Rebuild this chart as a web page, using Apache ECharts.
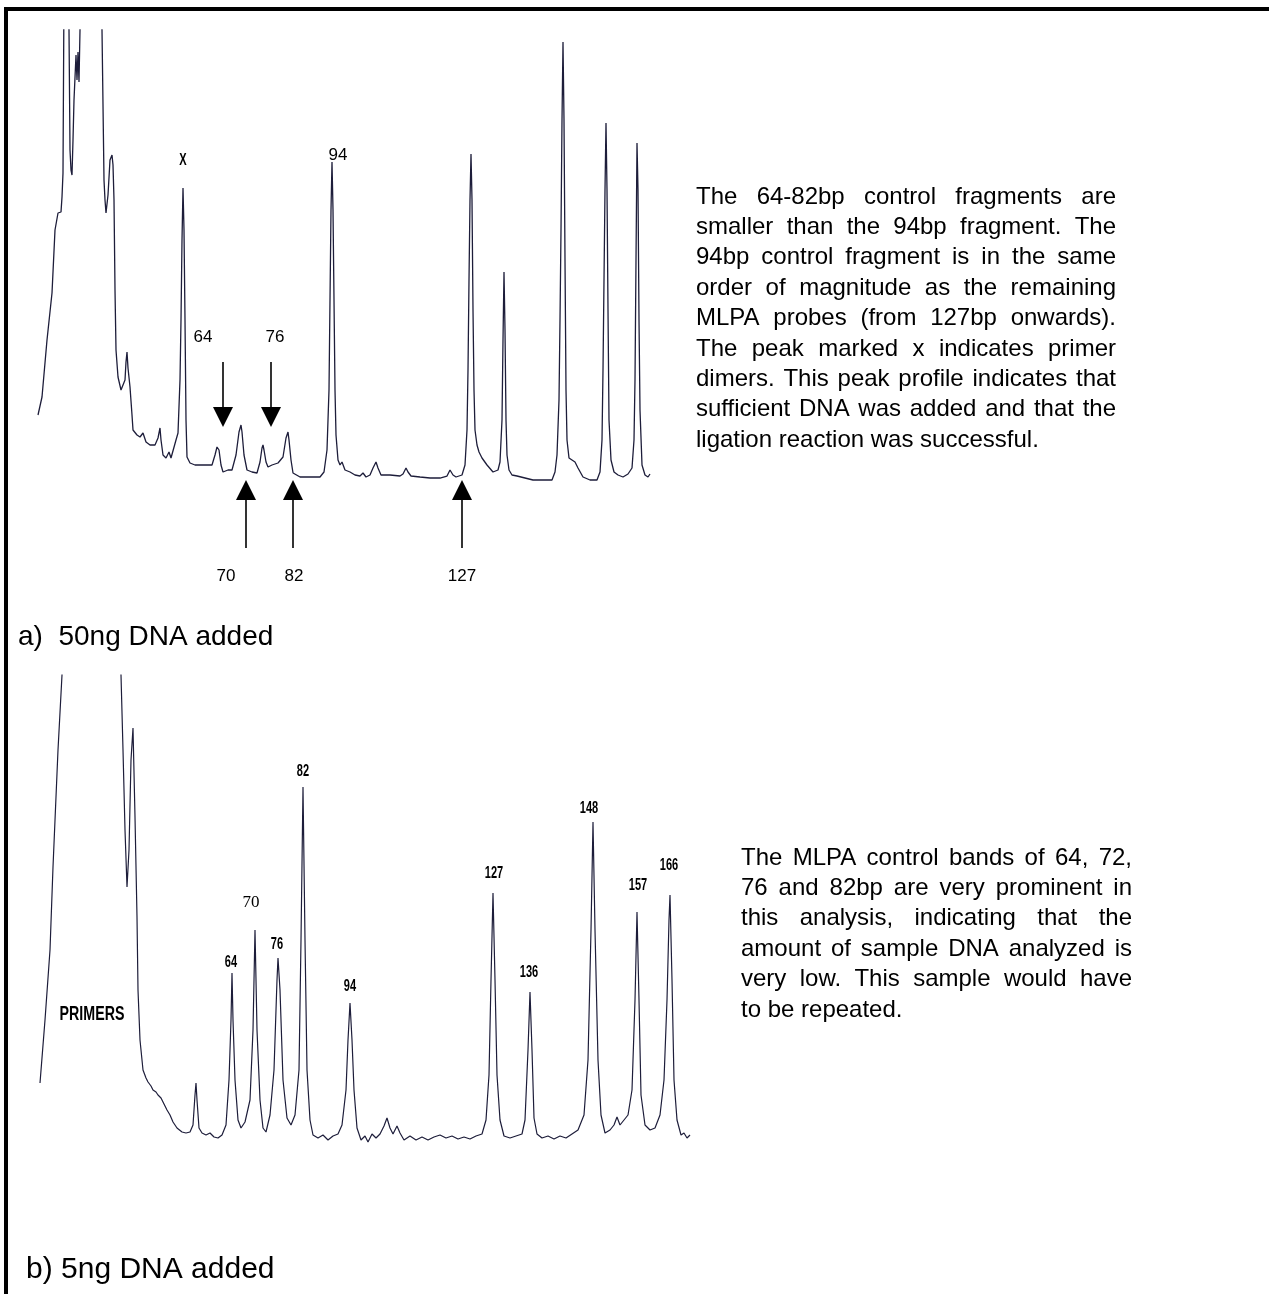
<!DOCTYPE html>
<html><head><meta charset="utf-8">
<script src="https://cdn.jsdelivr.net/npm/echarts@6/dist/echarts.min.js"></script>
<style>html,body{margin:0;padding:0;background:#fff;}#c{width:1269px;height:1294px;}</style>
</head><body><div id="c"></div>
<script>
// ---- Data: trace (a) 50ng DNA, [scan position, signal] ----
const traceA = [[38,65],[42,83],[47,140],[52,187],[55,250],[58,267],[61,268],[62,283],[63,307],[64,490],[68,490],[69,450],[70,330],[71,310],[72,305],[73,340],[74,380],[76,425],[77,400],[78,428],[79,398],[80,450],[81,490],[101,490],[102,450],[104,300],[105,280],[106,267],[108,285],[110,320],[112,325],[113,315],[114,280],[115,190],[116,130],[118,103],[121,90],[123,88],[125,100],[126,118],[127,128],[128,112],[130,93],[132,65],[133,50],[137,45],[140,43],[143,47],[146,38],[150,35],[155,35],[158,42],[160,52],[161,40],[163,25],[166,22],[169,28],[171,22],[173,23],[176,40],[178,47],[180,100],[181,160],[182,240],[183,292],[184,250],[185,160],[186,60],[187,23],[190,17],[195,15],[200,15],[205,15],[212,15],[215,25],[217,33],[218,35],[219,30],[221,15],[223,8],[228,10],[232,10],[236,25],[239,48],[241,55],[242,48],[244,25],[247,10],[252,8],[257,7],[260,18],[262,32],[263,35],[264,30],[266,18],[268,13],[272,15],[278,17],[283,23],[286,42],[288,48],[289,40],[291,20],[293,7],[300,3],[310,3],[320,3],[324,8],[327,30],[329,90],[330,180],[331,270],[332,318],[333,270],[334,180],[335,90],[336,45],[338,20],[340,15],[342,18],[345,10],[350,8],[355,5],[360,4],[363,7],[366,3],[370,5],[373,12],[376,18],[378,12],[381,5],[390,5],[400,4],[403,6],[406,12],[408,8],[411,4],[420,3],[430,2],[440,2],[447,4],[450,10],[451,12],[453,5],[456,3],[462,5],[465,15],[467,50],[468,110],[469,200],[470,280],[471,326],[472,280],[473,170],[474,90],[475,50],[477,35],[479,28],[482,22],[487,15],[493,8],[498,10],[500,18],[502,60],[503,140],[504,208],[505,150],[506,60],[507,25],[509,10],[512,5],[517,4],[525,2],[533,0],[545,0],[552,0],[555,8],[557,25],[559,80],[560,160],[561,250],[562,360],[563,438],[564,360],[565,220],[566,90],[567,40],[569,22],[572,20],[575,18],[578,12],[583,3],[590,0],[597,0],[600,8],[602,40],[603,110],[604,200],[605,290],[606,357],[607,290],[608,170],[609,60],[611,20],[614,8],[618,5],[623,3],[628,6],[632,12],[634,40],[635,100],[636,220],[637,337],[638,290],[639,160],[640,70],[642,15],[645,5],[648,3],[650,6]];

// ---- Data: trace (b) 5ng DNA, [scan position, signal] ----
const traceB = [[40,107],[45,170],[50,240],[53,323],[58,440],[62,515],[63,560],[120,560],[121,515],[123,440],[125,360],[127,303],[129,340],[131,430],[133,462],[135,373],[137,273],[138,200],[140,150],[143,120],[146,112],[148,108],[151,104],[153,100],[156,98],[158,95],[161,92],[163,90],[167,80],[170,75],[173,68],[177,62],[182,58],[186,57],[190,58],[193,65],[195,95],[196,107],[197,90],[199,62],[202,57],[206,55],[210,57],[214,53],[218,52],[222,55],[226,65],[229,110],[231,170],[232,217],[233,170],[235,110],[238,70],[241,62],[245,68],[250,90],[253,160],[255,260],[257,160],[260,90],[263,62],[266,58],[270,75],[274,120],[277,210],[278,232],[280,200],[283,110],[287,72],[291,65],[295,75],[299,120],[301,250],[303,403],[305,250],[307,120],[310,70],[313,55],[318,52],[323,55],[328,50],[333,54],[338,56],[342,65],[346,100],[348,150],[350,187],[352,150],[354,100],[357,62],[361,50],[365,54],[368,48],[372,56],[376,52],[380,56],[384,64],[387,72],[390,62],[393,56],[397,64],[400,57],[404,50],[410,54],[416,50],[422,53],[428,50],[434,53],[440,55],[446,52],[452,54],[458,51],[464,53],[470,51],[476,54],[482,56],[486,70],[489,115],[491,210],[493,297],[495,210],[497,115],[500,70],[504,54],[510,52],[516,54],[522,56],[525,70],[528,140],[530,198],[532,140],[534,72],[537,56],[542,52],[548,54],[554,51],[560,54],[566,52],[572,56],[578,60],[584,75],[588,130],[591,260],[593,368],[595,260],[598,130],[601,75],[605,57],[610,60],[614,65],[617,73],[620,65],[624,70],[628,75],[632,100],[635,190],[637,278],[639,190],[641,95],[645,65],[650,60],[655,62],[660,75],[664,110],[667,190],[669,270],[670,295],[672,210],[674,110],[677,70],[681,55],[684,57],[687,52],[690,55]];

// ---- Annotations (data coordinates) ----
const labelsATop = [['X',183,320],['94',338,325],['64',203,143],['76',275,143]];
const labelsABelow = [['70',226,-96],['82',294,-96],['127',462,-96]];
const arrowsDownA = [223, 271];
const arrowsUpA = [246, 293, 462];
const labelsB = [['64',231,228],['76',277,246],['82',303,419],['94',350,204],['127',494,317],['136',529,218],['148',589,382],['157',638,305],['166',669,325]];
const labelB70 = ['70',251,287];
const primersLabel = ['PRIMERS',92,175];

const para1 = ["The 64-82bp control fragments are","smaller than the 94bp fragment. The","94bp control fragment is in the same","order of magnitude as the remaining","MLPA probes (from 127bp onwards).","The peak marked x indicates primer","dimers. This peak profile indicates that","sufficient DNA was added and that the","ligation reaction was successful."];
const para2 = ["The MLPA control bands of 64, 72,","76 and 82bp are very prominent in","this analysis, indicating that the","amount of sample DNA analyzed is","very low. This sample would have","to be repeated."];

const chart = echarts.init(document.getElementById('c'), null, {renderer:'canvas'});
const axisOff = {show:false, splitLine:{show:false}};
const lineColor = '#1d1d3a';
chart.setOption({
  animation:false,
  backgroundColor:'#ffffff',
  grid:[{left:0,top:30,width:700,height:550},{left:0,top:675,width:700,height:615}],
  xAxis:[Object.assign({type:'value',min:0,max:700,gridIndex:0},axisOff),Object.assign({type:'value',min:0,max:700,gridIndex:1},axisOff)],
  yAxis:[Object.assign({type:'value',min:-100,max:450,gridIndex:0},axisOff),Object.assign({type:'value',min:-100,max:515,gridIndex:1},axisOff)],
  series:[
    {type:'line',xAxisIndex:0,yAxisIndex:0,data:traceA,showSymbol:false,symbol:'none',clip:true,lineStyle:{color:lineColor,width:1.3}},
    {type:'line',xAxisIndex:1,yAxisIndex:1,data:traceB,showSymbol:false,symbol:'none',clip:true,lineStyle:{color:lineColor,width:1.2}}
  ]
});

const P = (g, x, y) => chart.convertToPixel({gridIndex:g}, [x, y]);
const g = [];
// border
g.push({type:'line',shape:{x1:4,y1:9,x2:1269,y2:9},style:{stroke:'#000',lineWidth:4}});
g.push({type:'line',shape:{x1:6,y1:7,x2:6,y2:1294},style:{stroke:'#000',lineWidth:4}});

const txt = (x,y,text,font,opts) => Object.assign({type:'text',x:x,y:y,style:{x:0,y:0,text:text,font:font,fill:'#000',textAlign:'center',textVerticalAlign:'middle'}},opts||{});
const narrow = 'bold 13px "Liberation Sans", Arial, sans-serif';
const plain = '17px "Liberation Sans", Arial, sans-serif';
labelsATop.forEach(l => {
  const p = P(0,l[1],l[2]);
  if (l[0]==='X') g.push(txt(p[0],p[1],l[0],narrow,{scaleX:0.85,scaleY:1.3}));
  else g.push(txt(p[0],p[1],l[0],plain));
});
labelsABelow.forEach(l => { const p = P(0,l[1],l[2]); g.push(txt(p[0],p[1],l[0],plain)); });

function arrow(xp, yTail, yTip) {
  const dir = yTip > yTail ? 1 : -1;
  const headLen = 20, half = 10;
  const yBase = yTip - dir*headLen;
  g.push({type:'line',shape:{x1:xp,y1:yTail,x2:xp,y2:yBase},style:{stroke:'#000',lineWidth:1.6}});
  g.push({type:'polygon',shape:{points:[[xp-half,yBase],[xp+half,yBase],[xp,yTip]]},style:{fill:'#000'}});
}
arrowsDownA.forEach(x => { const a = P(0,x,118), b = P(0,x,53); arrow(a[0],a[1],b[1]); });
arrowsUpA.forEach(x => { const a = P(0,x,-68), b = P(0,x,0); arrow(a[0],a[1],b[1]); });

labelsB.forEach(l => { const p = P(1,l[1],l[2]); g.push(txt(p[0],p[1],l[0],narrow,{scaleX:0.85,scaleY:1.3})); });
{ const p = P(1,labelB70[1],labelB70[2]); g.push(txt(p[0],p[1],labelB70[0],'17px "Liberation Serif", "Times New Roman", serif')); }
{ const p = P(1,primersLabel[1],primersLabel[2]); g.push(txt(p[0],p[1],primersLabel[0],'bold 15px "Liberation Sans", Arial, sans-serif',{scaleX:0.95,scaleY:1.3})); }

// captions
g.push({type:'text',x:18,y:637,style:{x:0,y:0,text:'a)  50ng DNA added',font:'28px "Liberation Sans", Arial, sans-serif',fill:'#000',textVerticalAlign:'middle'}});
g.push({type:'text',x:26,y:1270,style:{x:0,y:0,text:'b) 5ng DNA added',font:'30px "Liberation Sans", Arial, sans-serif',fill:'#000',textVerticalAlign:'middle'}});

// justified paragraphs
const mctx = document.createElement('canvas').getContext('2d');
function justify(lines, left, right, y0, step, font) {
  mctx.font = font;
  lines.forEach((ln, i) => {
    const y = y0 + i*step;
    const words = ln.split(' ');
    if (i === lines.length-1 || words.length < 2) {
      g.push({type:'text',x:left,y:y,style:{x:0,y:0,text:ln,font:font,fill:'#000',textVerticalAlign:'middle'}});
      return;
    }
    const widths = words.map(w => mctx.measureText(w).width);
    const total = widths.reduce((s,w)=>s+w,0);
    const gap = (right-left-total)/(words.length-1);
    let x = left;
    words.forEach((w,k) => {
      g.push({type:'text',x:x,y:y,style:{x:0,y:0,text:w,font:font,fill:'#000',textVerticalAlign:'middle'}});
      x += widths[k] + gap;
    });
  });
}
const bodyFont = '24px "Liberation Sans", Arial, sans-serif';
justify(para1, 696, 1116, 197, 30.4, bodyFont);
justify(para2, 741, 1132, 858, 30.4, bodyFont);

chart.setOption({graphic:{elements:g}});
</script></body></html>
